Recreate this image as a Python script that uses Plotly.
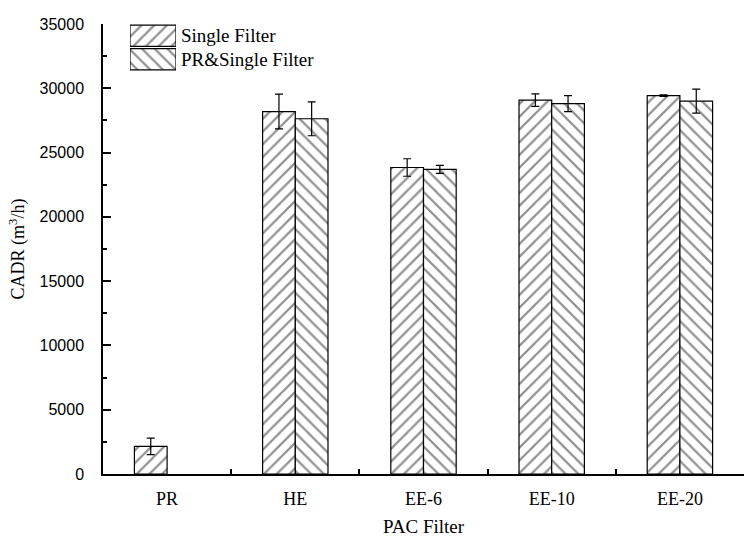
import plotly.graph_objects as go

categories = ["PR", "HE", "EE-6", "EE-10", "EE-20"]
series_names = ["Single Filter", "PR&Single Filter"]
single_vals = [2150, 28190, 23840, 29080, 29430]
single_err = [640, 1350, 680, 490, 60]
pr_single_vals = [None, 27630, 23690, 28810, 29000]
pr_single_err = [None, 1320, 310, 620, 930]
y_ticks = [0, 5000, 10000, 15000, 20000, 25000, 30000, 35000]
y_ticktext = [str(v) for v in y_ticks]

SERIF = "Liberation Serif, Times New Roman, serif"
SANS = "Liberation Sans, Arial, sans-serif"

def pattern(shape):
    return dict(shape=shape, fgcolor="#222222", bgcolor="white", size=9, solidity=0.25)

fig = go.Figure()
fig.add_trace(go.Bar(
    x=categories, y=single_vals, name=series_names[0],
    marker=dict(color="white", line=dict(color="black", width=1.2), pattern=pattern("/")),
    error_y=dict(type="data", array=single_err, color="black", thickness=1.2, width=4),
    showlegend=False,
))
fig.add_trace(go.Bar(
    x=categories, y=pr_single_vals, name=series_names[1],
    marker=dict(color="white", line=dict(color="black", width=1.2), pattern=pattern("\\")),
    error_y=dict(type="data", array=pr_single_err, color="black", thickness=1.2, width=4),
    showlegend=False,
))

# legend swatches drawn as a small bar trace on an auxiliary axis
fig.add_trace(go.Bar(
    y=series_names, x=[1, 1], orientation="h", xaxis="x2", yaxis="y2",
    width=[0.9, 0.9],
    marker=dict(color="white", line=dict(color="black", width=1.2),
                pattern=dict(shape=["/", "\\"], fgcolor="#222222", bgcolor="white", size=9, solidity=0.25)),
    showlegend=False, hoverinfo="skip",
))

fig.update_layout(
    width=744, height=537,
    margin=dict(l=103, r=0, t=24, b=63),
    paper_bgcolor="white", plot_bgcolor="white",
    barmode="group", bargap=0.49, bargroupgap=0,
    showlegend=False,
    xaxis=dict(
        type="category", categoryorder="array", categoryarray=categories,
        showline=True, linecolor="black", linewidth=1.5,
        ticks="inside", ticklen=5, tickwidth=1.5, tickcolor="black",
        tickson="boundaries",
        tickfont=dict(family=SERIF, size=18, color="black"),
        ticklabelstandoff=8,
        automargin=False,
        showgrid=False, zeroline=False,
        title=dict(text="PAC Filter", font=dict(family=SERIF, size=19, color="black"), standoff=17),
    ),
    yaxis=dict(
        range=[0, 35000], tickvals=y_ticks, ticktext=y_ticktext,
        showline=True, linecolor="black", linewidth=1.5,
        ticks="inside", ticklen=8, tickwidth=1.5, tickcolor="black",
        minor=dict(ticks="inside", ticklen=4, dtick=2500, tick0=0, tickcolor="black", tickwidth=1.5),
        tickfont=dict(family=SANS, size=16, color="black"),
        ticklabelstandoff=14,
        automargin=False,
        showgrid=False, zeroline=False,
        title=dict(text="CADR (m<sup>3</sup>/h)", font=dict(family=SERIF, size=18, color="black"), standoff=10),
    ),
    xaxis2=dict(domain=[0.0421, 0.1139], anchor="y2", range=[0, 1], visible=False, fixedrange=True),
    yaxis2=dict(
        domain=[0.8956, 1.0], anchor="x2", side="right",
        type="category", categoryorder="array", categoryarray=series_names[::-1],
        showline=False, ticks="", showgrid=False, zeroline=False,
        tickfont=dict(family=SERIF, size=19, color="black"),
        ticklabelstandoff=4,
    ),
)
fig.write_html("out.html")
